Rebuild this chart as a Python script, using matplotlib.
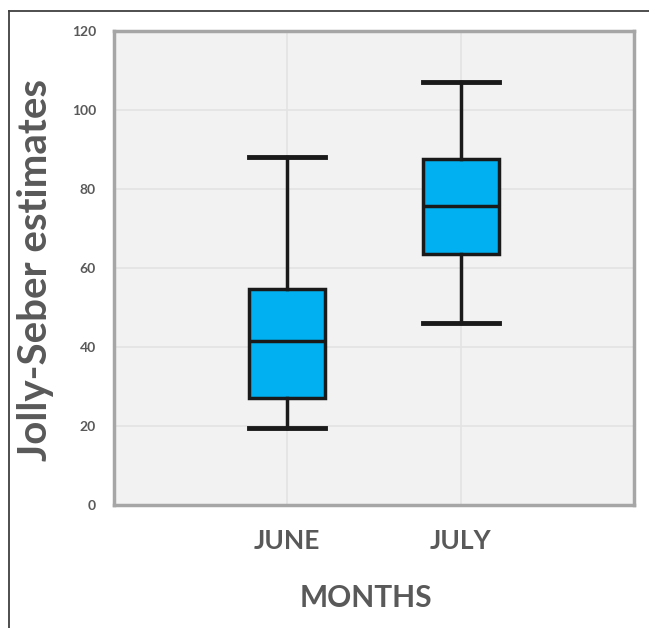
import matplotlib
matplotlib.use("Agg")
import matplotlib.pyplot as plt
from matplotlib.lines import Line2D

categories = ["JUNE", "JULY"]
whisker_low = [19.5, 46.2]
q1 = [27.2, 63.5]
median = [41.4, 75.7]
q3 = [54.7, 87.6]
whisker_high = [88.0, 107.0]
yticks = [0, 20, 40, 60, 80, 100, 120]

plt.rcParams['font.family'] = ['Lato', 'DejaVu Sans']

fig = plt.figure(figsize=(6.49, 6.28), dpi=100)
ax = fig.add_axes([114/649, 1-505/628, (634-114)/649, (505-31)/628])
ax.set_facecolor('#F2F2F2')

stats = []
for i, c in enumerate(categories):
    stats.append(dict(label=c, whislo=whisker_low[i], q1=q1[i], med=median[i],
                      q3=q3[i], whishi=whisker_high[i], fliers=[]))

bp = ax.bxp(stats, positions=[1, 2], widths=0.44, patch_artist=True,
            showfliers=False,
            boxprops=dict(facecolor='#00B0F0', edgecolor='#1a1a1a', linewidth=2.5),
            medianprops=dict(color='#1a1a1a', linewidth=2.5),
            whiskerprops=dict(color='#1a1a1a', linewidth=2.5),
            capprops=dict(color='#1a1a1a', linewidth=3.5),
            capwidths=0.44, zorder=3)

ax.set_xlim(0, 3)
ax.set_ylim(0, 120)
ax.set_yticks(yticks)
ax.set_xticks([1, 2])
ax.set_xticklabels(categories)
ax.grid(True, color='#E3E3E3', linewidth=1.2, zorder=0)
ax.set_axisbelow(True)
for s in ax.spines.values():
    s.set_color('#A6A6A6')
    s.set_linewidth(2.5)
ax.tick_params(axis='both', length=0)
ax.tick_params(axis='y', labelsize=10, labelcolor='#595959', pad=13)
ax.tick_params(axis='x', labelsize=19, labelcolor='#595959', pad=17)
for t in ax.get_yticklabels():
    t.set_fontweight('bold')
for t in ax.get_xticklabels():
    t.set_fontweight('bold')

fig.text(36/649, 1-270/628, 'Jolly-Seber estimates', rotation=90, ha='center', va='center',
         fontsize=29, fontweight='bold', color='#595959')
fig.text(366/649, 1-598/628, 'MONTHS', ha='center', va='center',
         fontsize=21.5, fontweight='bold', color='#595959')

fig.add_artist(Line2D([8.5/649, 8.5/649], [0, 1-11/628], color='#404040', linewidth=1.3, transform=fig.transFigure))
fig.add_artist(Line2D([8.5/649, 1], [1-11/628, 1-11/628], color='#404040', linewidth=1.3, transform=fig.transFigure))

fig.savefig('out.png', dpi=100)
